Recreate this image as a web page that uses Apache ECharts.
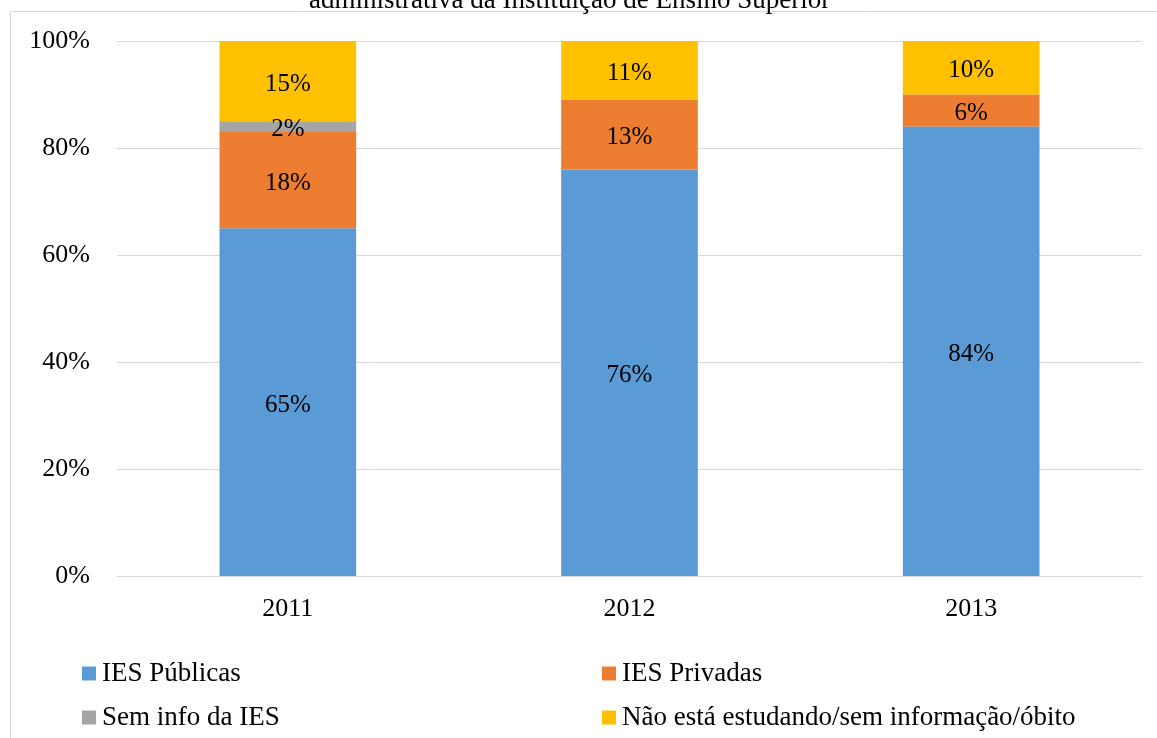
<!DOCTYPE html>
<html>
<head>
<meta charset="utf-8">
<script src="https://cdn.jsdelivr.net/npm/echarts@6/dist/echarts.min.js"></script>
<style>
  html, body { margin: 0; padding: 0; background: #fff; }
  #chart { width: 1157px; height: 738px; }
</style>
</head>
<body>
<div id="chart"></div>
<script>
  // dados
  var anos = ['2011', '2012', '2013'];
  var iesPublicas = [65, 76, 84];
  var iesPrivadas = [18, 13, 6];
  var semInfoIes = [2, 0, 0];
  var naoEstuda = [15, 11, 10];
  var yTicks = [0, 20, 40, 60, 80, 100];

  var fonte = '"Liberation Serif", "Times New Roman", serif';

  function serie(nome, dados, cor) {
    return {
      name: nome,
      type: 'bar',
      stack: 'total',
      barWidth: '40%',
      data: dados,
      itemStyle: { color: cor },
      label: {
        show: true,
        position: 'inside',
        color: '#000',
        fontFamily: fonte,
        fontSize: 25,
        offset: [0, 3],
        formatter: function (p) {
          return p.value ? p.value + '%' : '';
        }
      }
    };
  }

  // uma legenda por item, em duas colunas
  function legenda(nome, x, y) {
    return {
      data: [nome],
      left: x,
      top: y,
      itemWidth: 14,
      itemHeight: 14,
      itemGap: 0,
      icon: 'rect',
      padding: 0,
      textStyle: { fontFamily: fonte, fontSize: 27, color: '#000', padding: [0, 0, 0, 1] }
    };
  }

  var chart = echarts.init(document.getElementById('chart'));
  chart.setOption({
    animation: false,
    backgroundColor: '#fff',
    title: {
      text: 'administrativa da Instituição de Ensino Superior',
      left: 304,
      top: -18,
      textStyle: { fontFamily: fonte, fontSize: 27, fontWeight: 'normal', color: '#000' }
    },
    graphic: [
      { type: 'line', shape: { x1: 10.5, y1: 11.5, x2: 1157, y2: 11.5 }, style: { stroke: '#d9d9d9', lineWidth: 1 } },
      { type: 'line', shape: { x1: 10.5, y1: 11.5, x2: 10.5, y2: 738 }, style: { stroke: '#d9d9d9', lineWidth: 1 } }
    ],
    grid: { left: 117, right: 15, top: 41, bottom: 162 },
    legend: [
      legenda('IES Públicas', 82, 660),
      legenda('Sem info da IES', 82, 704),
      legenda('IES Privadas', 602, 660),
      legenda('Não está estudando/sem informação/óbito', 602, 704)
    ],
    xAxis: {
      type: 'category',
      data: anos,
      axisTick: { show: false },
      axisLine: { lineStyle: { color: '#d9d9d9', width: 1 } },
      axisLabel: { color: '#000', fontFamily: fonte, fontSize: 26, margin: 20 }
    },
    yAxis: {
      type: 'value',
      min: yTicks[0],
      max: yTicks[yTicks.length - 1],
      interval: yTicks[1] - yTicks[0],
      axisLine: { show: false },
      axisTick: { show: false },
      splitLine: { lineStyle: { color: '#d9d9d9', width: 1 } },
      axisLabel: { color: '#000', fontFamily: fonte, fontSize: 26, margin: 27, formatter: '{value}%' }
    },
    series: [
      serie('IES Públicas', iesPublicas, '#5B9BD5'),
      serie('IES Privadas', iesPrivadas, '#ED7D31'),
      serie('Sem info da IES', semInfoIes, '#A5A5A5'),
      serie('Não está estudando/sem informação/óbito', naoEstuda, '#FFC000')
    ]
  });
</script>
</body>
</html>
